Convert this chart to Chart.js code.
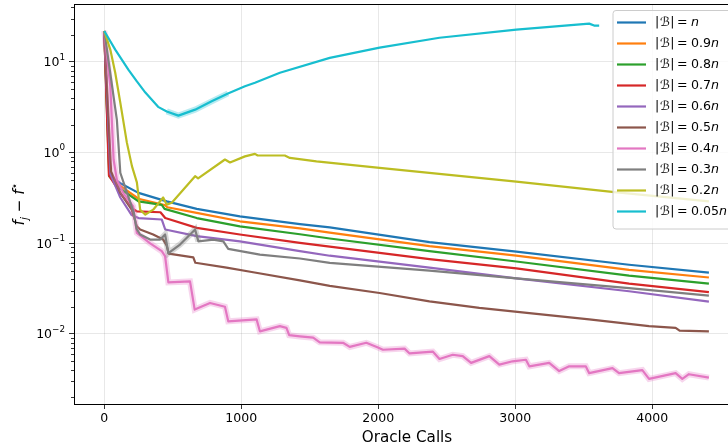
<!DOCTYPE html>
<html>
<head>
<meta charset="utf-8">
<script src="https://cdn.jsdelivr.net/npm/chart.js@4.4.1/dist/chart.umd.min.js"></script>
<style>
  html, body { margin: 0; padding: 0; background: #fff; overflow: hidden; }
  #wrap { width: 728px; height: 448px; overflow: hidden; }
</style>
</head>
<body>
<div id="wrap"><canvas id="gapChart" width="742" height="448"></canvas></div>
<script>
// batch size |B| as a fraction of n (legend order)
const batchFractions = ['', '0.9', '0.8', '0.7', '0.6', '0.5', '0.4', '0.3', '0.2', '0.05'];

// oracle calls / optimality gap per run
const calls_1 = [0, 40, 117, 250, 456, 675, 990, 1428, 1646, 2374, 3008, 3831, 4414];
const gap_1 = [22, 0.55, 0.46, 0.36, 0.29, 0.24, 0.198, 0.163, 0.150, 0.103, 0.081, 0.058, 0.0475];

const calls_09 = [0, 38, 117, 250, 440, 460, 675, 990, 1428, 1646, 2374, 3008, 3831, 4414];
const gap_09 = [22, 0.55, 0.43, 0.31, 0.265, 0.25, 0.217, 0.175, 0.146, 0.131, 0.093, 0.073, 0.051, 0.042];

const calls_08 = [0, 36, 117, 250, 420, 440, 675, 990, 1428, 1646, 2374, 3008, 3831, 4414];
const gap_08 = [22, 0.55, 0.40, 0.29, 0.265, 0.24, 0.19, 0.154, 0.126, 0.113, 0.082, 0.063, 0.044, 0.036];

const calls_07 = [0, 34, 117, 200, 238, 410, 445, 675, 990, 1428, 1646, 2374, 3008, 3831, 4414];
const gap_07 = [22, 0.56, 0.36, 0.245, 0.225, 0.22, 0.19, 0.148, 0.125, 0.101, 0.092, 0.067, 0.053, 0.036, 0.029];

const calls_06 = [0, 45, 117, 200, 250, 420, 445, 675, 990, 1428, 1646, 2374, 3008, 3831, 4414];
const gap_06 = [22, 0.58, 0.32, 0.205, 0.19, 0.183, 0.142, 0.12, 0.105, 0.082, 0.073, 0.054, 0.041, 0.0296, 0.0228];

const calls_05 = [0, 50, 117, 200, 238, 262, 357, 430, 455, 470, 650, 665, 893, 1087, 1428, 1646, 2010, 2374, 2738, 3103, 3540, 3977, 4171, 4200, 4414];
const gap_05 = [22, 0.62, 0.36, 0.235, 0.154, 0.142, 0.125, 0.11, 0.095, 0.077, 0.07, 0.061, 0.054, 0.048, 0.039, 0.034, 0.0283, 0.0229, 0.0194, 0.017, 0.0145, 0.0122, 0.0117, 0.0109, 0.0107];

const calls_04 = [0, 44, 68, 92, 138, 211, 238, 335, 420, 444, 468, 626, 660, 772, 881, 905, 1112, 1136, 1282, 1330, 1350, 1428, 1525, 1573, 1743, 1792, 1913, 1998, 2034, 2192, 2229, 2398, 2447, 2544, 2617, 2678, 2811, 2884, 2981, 3078, 3103, 3248, 3321, 3394, 3515, 3540, 3710, 3758, 3928, 3977, 4171, 4220, 4268, 4414];
const gap_04 = [22, 5.4, 0.84, 0.5, 0.36, 0.256, 0.13, 0.1, 0.082, 0.072, 0.037, 0.038, 0.0186, 0.022, 0.02, 0.0138, 0.0145, 0.0107, 0.0122, 0.0117, 0.0097, 0.0094, 0.0091, 0.0081, 0.008, 0.0072, 0.008, 0.0071, 0.0067, 0.0069, 0.0061, 0.0064, 0.0053, 0.0059, 0.0057, 0.0048, 0.0057, 0.0046, 0.005, 0.0052, 0.0044, 0.0048, 0.0039, 0.0044, 0.0044, 0.0037, 0.0042, 0.0037, 0.004, 0.0032, 0.0037, 0.0032, 0.0036, 0.0033];

const calls_03 = [0, 92, 117, 175, 215, 235, 262, 335, 408, 444, 468, 553, 663, 687, 796, 869, 905, 1136, 1428, 1646, 2374, 3008, 3831, 4414];
const gap_03 = [22, 2.3, 0.6, 0.33, 0.22, 0.145, 0.125, 0.11, 0.11, 0.125, 0.078, 0.097, 0.142, 0.105, 0.11, 0.105, 0.087, 0.075, 0.068, 0.061, 0.05, 0.041, 0.032, 0.0265];

const calls_02 = [0, 44, 80, 117, 165, 202, 238, 262, 300, 357, 430, 456, 493, 663, 685, 881, 918, 1027, 1100, 1120, 1318, 1355, 1549, 2010, 3008, 3707, 4414];
const gap_02 = [22, 13.7, 7.6, 3.56, 1.29, 0.71, 0.47, 0.235, 0.207, 0.235, 0.32, 0.267, 0.28, 0.55, 0.52, 0.84, 0.78, 0.91, 0.97, 0.93, 0.93, 0.875, 0.8, 0.68, 0.48, 0.37, 0.29];

const calls_005 = [0, 80, 177, 238, 300, 393, 456, 541, 663, 784, 903, 1027, 1100, 1282, 1646, 2010, 2447, 3008, 3540, 3576, 3613];
const gap_005 = [22, 13.7, 8.2, 6.1, 4.6, 3.2, 2.85, 2.56, 2.98, 3.68, 4.5, 5.4, 5.9, 7.6, 11.1, 14.4, 18.5, 22.7, 26.5, 25.2, 25.2];

const callsRuns = [calls_1, calls_09, calls_08, calls_07, calls_06, calls_05, calls_04, calls_03, calls_02, calls_005];
const gapRuns = [gap_1, gap_09, gap_08, gap_07, gap_06, gap_05, gap_04, gap_03, gap_02, gap_005];

// axes
const xTicks = [0, 1000, 2000, 3000, 4000];
const yTicks = [0.01, 0.1, 1, 10];
const yTickExps = ['\u22122', '\u22121', '0', '1'];

const colors = ['#1f77b4', '#ff7f0e', '#2ca02c', '#d62728', '#9467bd',
                '#8c564b', '#e377c2', '#7f7f7f', '#bcbd22', '#17becf'];
// where the spread band is visible (calls range), per run index
const bands = { 6: [0, 5000], 7: [400, 720], 9: [430, 950] };

function hexA(hex, a) {
    const n = parseInt(hex.slice(1), 16);
    return `rgba(${(n >> 16) & 255},${(n >> 8) & 255},${n & 255},${a})`;
}

const FONT = '"DejaVu Sans", sans-serif';

const datasets = [];
callsRuns.forEach((xs, i) => {
    const pts = xs.map((x, k) => ({ x: x, y: gapRuns[i][k] }));
    datasets.push({
        data: pts,
        borderColor: colors[i],
        borderWidth: 2.2,
        pointRadius: 0,
        tension: 0,
        borderJoinStyle: 'round',
        order: 2 * (9 - i),
    });
    if (bands[i]) {
        const [lo, hi] = bands[i];
        datasets.push({
            data: pts,
            borderColor: hexA(colors[i], 0.3),
            borderWidth: 6,
            pointRadius: 0,
            tension: 0,
            segment: {
                borderColor: c => (c.p0.parsed.x >= lo && c.p1.parsed.x <= hi) ? hexA(colors[i], 0.3) : 'rgba(0,0,0,0)',
            },
            order: 2 * (9 - i) + 1,
        });
    }
});

const decor = {
    id: 'decor',
    afterDraw(chart) {
        const { ctx, chartArea: a, scales: { x, y } } = chart;
        ctx.save();

        // minor ticks on the log axis
        ctx.strokeStyle = '#000';
        ctx.lineWidth = 0.8;
        for (let e = -3; e <= 1; e++) {
            for (let m = 2; m <= 9; m++) {
                const v = m * Math.pow(10, e);
                if (v < y.min || v > y.max) continue;
                const py = Math.round(y.getPixelForValue(v)) + 0.5;
                ctx.beginPath();
                ctx.moveTo(a.left - 3, py);
                ctx.lineTo(a.left, py);
                ctx.stroke();
            }
        }

        // y tick labels 10^k
        ctx.fillStyle = '#000';
        ctx.textBaseline = 'middle';
        yTicks.forEach((v, i) => {
            const py = y.getPixelForValue(v);
            ctx.font = `8.8px ${FONT}`;
            const ew = ctx.measureText(yTickExps[i]).width;
            ctx.textAlign = 'left';
            const right = a.left - 9;
            ctx.fillText(yTickExps[i], right - ew, py - 4.5);
            ctx.font = `12.5px ${FONT}`;
            ctx.textAlign = 'right';
            ctx.fillText('10', right - ew, py + 1);
        });

        // spines
        ctx.lineWidth = 1;
        ctx.strokeStyle = '#000';
        ctx.strokeRect(a.left + 0.5, a.top + 0.5, a.right - a.left, a.bottom - a.top);

        // axis titles
        ctx.textAlign = 'center';
        ctx.textBaseline = 'middle';
        ctx.font = `15.2px ${FONT}`;
        ctx.fillText('Oracle Calls', (a.left + a.right) / 2, 438);

        const pieces = [
            { t: 'f', f: `italic 15.2px ${FONT}`, dy: 0 },
            { t: 'j', f: `italic 10.6px ${FONT}`, dy: 4 },
            { t: ' \u2212 ', f: `15.2px ${FONT}`, dy: 0 },
            { t: 'f', f: `italic 15.2px ${FONT}`, dy: 0 },
            { t: '\u22C6', f: `11px ${FONT}`, dy: -6 },
        ];
        let total = 0;
        pieces.forEach(p => { ctx.font = p.f; p.w = ctx.measureText(p.t).width; total += p.w; });
        ctx.save();
        ctx.translate(19, (a.top + a.bottom) / 2);
        ctx.rotate(-Math.PI / 2);
        ctx.textAlign = 'left';
        ctx.textBaseline = 'alphabetic';
        let px = -total / 2;
        pieces.forEach(p => { ctx.font = p.f; ctx.fillText(p.t, px, 5 + p.dy); px += p.w; });
        ctx.restore();

        // legend box
        const lx = 613, ly = 10.5, lw = 121, lh = 218.5, r = 3;
        ctx.beginPath();
        ctx.moveTo(lx + r, ly);
        ctx.lineTo(lx + lw - r, ly);
        ctx.arcTo(lx + lw, ly, lx + lw, ly + r, r);
        ctx.lineTo(lx + lw, ly + lh - r);
        ctx.arcTo(lx + lw, ly + lh, lx + lw - r, ly + lh, r);
        ctx.lineTo(lx + r, ly + lh);
        ctx.arcTo(lx, ly + lh, lx, ly + lh - r, r);
        ctx.lineTo(lx, ly + r);
        ctx.arcTo(lx, ly, lx + r, ly, r);
        ctx.closePath();
        ctx.fillStyle = 'rgba(255,255,255,0.8)';
        ctx.fill();
        ctx.strokeStyle = '#cccccc';
        ctx.lineWidth = 1;
        ctx.stroke();

        batchFractions.forEach((fr, i) => {
            const ry = 22.5 + i * 21;
            ctx.strokeStyle = colors[i];
            ctx.lineWidth = 2.2;
            ctx.beginPath();
            ctx.moveTo(617, ry);
            ctx.lineTo(646, ry);
            ctx.stroke();

            ctx.fillStyle = '#000';
            ctx.textBaseline = 'middle';
            ctx.textAlign = 'left';
            let tx = 655;
            const put = (t, f, gap) => {
                ctx.font = f;
                ctx.fillText(t, tx, ry);
                tx += ctx.measureText(t).width + (gap || 0);
            };
            const reg = `12.6px ${FONT}`;
            put('|', reg, 0.5);
            put('\u212C', `12.6px ${FONT}`, 0.5);
            put('|', reg, 2.5);
            put('=', reg, 3.5);
            if (fr) put(fr, reg, 0);
            put('n', `italic 12.6px ${FONT}`, 0);
        });

        ctx.restore();
    }
};

new Chart(document.getElementById('gapChart'), {
    type: 'line',
    data: { datasets: datasets },
    options: {
        responsive: false,
        animation: false,
        devicePixelRatio: 1,
        layout: { padding: { top: 4, right: 2, left: 0, bottom: 0 } },
        plugins: {
            legend: { display: false },
            tooltip: { enabled: false },
        },
        scales: {
            x: {
                type: 'linear',
                min: -221,
                max: 4641,
                afterBuildTicks: s => { s.ticks = xTicks.map(v => ({ value: v })); },
                afterFit: s => { s.height = 44; },
                ticks: {
                    color: '#000',
                    font: { family: FONT, size: 12.5 },
                    padding: 2,
                    maxRotation: 0,
                    callback: v => String(v),
                },
                grid: {
                    color: 'rgba(0,0,0,0.09)',
                    tickColor: '#000',
                    tickLength: 5,
                    tickWidth: 0.8,
                },
                border: { display: false },
            },
            y: {
                type: 'logarithmic',
                min: 0.00169,
                max: 43.6,
                afterBuildTicks: s => { s.ticks = yTicks.map(v => ({ value: v, major: true })); },
                afterFit: s => { s.width = 74; },
                ticks: { display: false },
                grid: {
                    color: 'rgba(0,0,0,0.09)',
                    tickColor: '#000',
                    tickLength: 5,
                    tickWidth: 0.8,
                },
                border: { display: false },
            },
        },
    },
    plugins: [decor],
});
</script>
</body>
</html>
